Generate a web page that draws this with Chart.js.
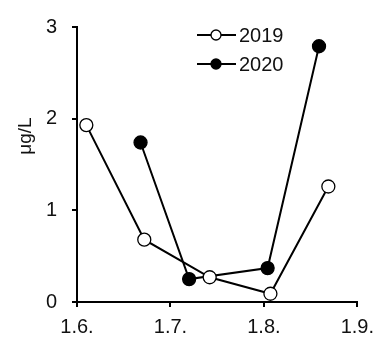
<!DOCTYPE html>
<html>
<head>
  <title>μg/L 2019 / 2020</title>
  <style>
    body { margin: 0; background: #fff; }
    #wrap { position: relative; width: 382px; height: 343px; }
  </style>
  <script src="https://cdn.jsdelivr.net/npm/chart.js"></script>
</head>
<body>
  <div id="wrap"><canvas id="chart"></canvas></div>

  <script>
    // data
    const seriesNames = ['2019', '2020'];
    const x2019 = [1.610, 1.672, 1.742, 1.807, 1.869];
    const y2019 = [1.93, 0.68, 0.27, 0.09, 1.26];
    const x2020 = [1.668, 1.720, 1.804, 1.859];
    const y2020 = [1.74, 0.25, 0.37, 2.79];
    const xTicks = [1.6, 1.7, 1.8, 1.9];
    const xTickLabels = ['1.6.', '1.7.', '1.8.', '1.9.'];
    const yTicks = [0, 1, 2, 3];
    const yTitle = 'μg/L';

    const font = 'Liberation Sans, Arial, sans-serif';

    function toPoints(xs, ys) {
      return xs.map((x, i) => ({ x: x, y: ys[i] }));
    }

    // legend inside the plot + rotated y title
    const extras = {
      id: 'extras',
      afterDraw(chart) {
        const ctx = chart.ctx;
        ctx.save();
        const rows = [35, 64];
        chart.data.datasets.forEach((ds, i) => {
          const y = rows[i];
          ctx.strokeStyle = '#000';
          ctx.lineWidth = 2;
          ctx.beginPath();
          ctx.moveTo(197, y);
          ctx.lineTo(236, y);
          ctx.stroke();
          ctx.beginPath();
          ctx.arc(216, y, 5, 0, Math.PI * 2);
          ctx.fillStyle = ds.pointBackgroundColor;
          ctx.fill();
          ctx.lineWidth = 1.3;
          ctx.stroke();
          ctx.fillStyle = '#111';
          ctx.font = '20px ' + font;
          ctx.textBaseline = 'middle';
          ctx.textAlign = 'left';
          ctx.fillText(ds.label, 239, y + 1);
        });
        ctx.translate(26, 136);
        ctx.rotate(-Math.PI / 2);
        ctx.textAlign = 'center';
        ctx.textBaseline = 'middle';
        ctx.font = '19px ' + font;
        ctx.fillText(yTitle, 0, 0);
        ctx.restore();
      }
    };

    new Chart(document.getElementById('chart'), {
      type: 'scatter',
      data: {
        datasets: [
          {
            label: seriesNames[0],
            data: toPoints(x2019, y2019),
            showLine: true,
            borderColor: '#000',
            borderWidth: 2,
            pointRadius: 6.5,
            pointBorderWidth: 1.3,
            pointBackgroundColor: '#fff',
            pointBorderColor: '#000',
          },
          {
            label: seriesNames[1],
            data: toPoints(x2020, y2020),
            showLine: true,
            borderColor: '#000',
            borderWidth: 2,
            pointRadius: 6.5,
            pointBorderWidth: 1.3,
            pointBackgroundColor: '#000',
            pointBorderColor: '#000',
          },
        ],
      },
      options: {
        responsive: true,
        maintainAspectRatio: false,
        animation: false,
        layout: { padding: { top: 15, right: 16, left: 0, bottom: 0 } },
        plugins: { legend: { display: false }, tooltip: { enabled: false } },
        scales: {
          x: {
            type: 'linear',
            min: 1.6,
            max: 1.9,
            afterBuildTicks: (scale) => { scale.ticks = xTicks.map(v => ({ value: v })); },
            afterFit: (scale) => { scale.height = 41; },
            border: { color: '#000', width: 2 },
            grid: { drawOnChartArea: false, drawTicks: true, tickLength: 5, color: '#000', lineWidth: 2 },
            ticks: {
              color: '#111',
              font: { family: font, size: 20 },
              padding: 8,
              maxRotation: 0,
              callback: (value, index) => xTickLabels[index],
            },
          },
          y: {
            min: 0,
            max: 3,
            afterBuildTicks: (scale) => { scale.ticks = yTicks.map(v => ({ value: v })); },
            afterFit: (scale) => { scale.width = 77; },
            border: { color: '#000', width: 2 },
            grid: { drawOnChartArea: false, drawTicks: true, tickLength: 5, color: '#000', lineWidth: 2 },
            ticks: {
              color: '#111',
              font: { family: font, size: 20 },
              padding: 15,
              callback: (value) => String(value),
            },
          },
        },
      },
      plugins: [extras],
    });
  </script>
</body>
</html>
